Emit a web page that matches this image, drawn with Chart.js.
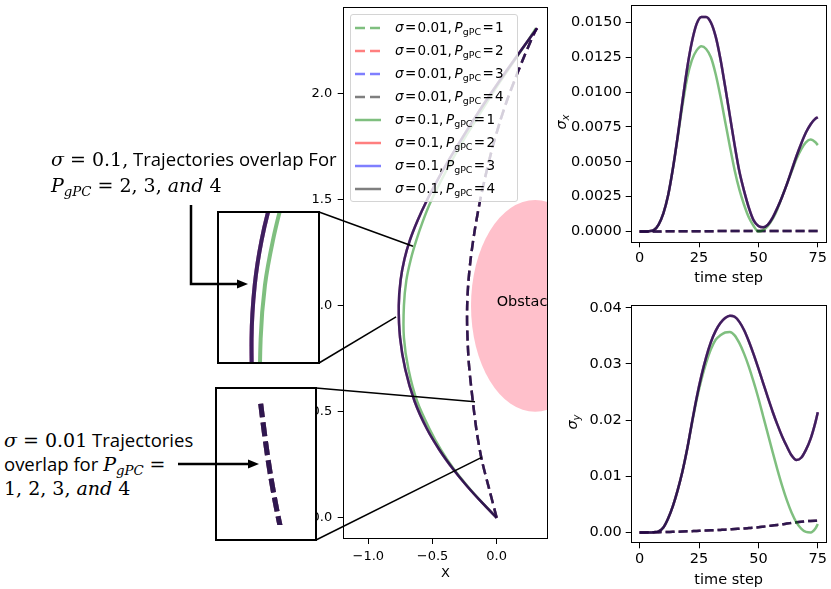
<!DOCTYPE html>
<html>
<head>
<meta charset="utf-8">
<title>gPC trajectories</title>
<script src="https://cdn.jsdelivr.net/npm/chart.js@4.4.1/dist/chart.umd.min.js"></script>
<style>
  body { margin: 0; background: #fff; }
  #fig { position: relative; width: 831px; height: 589px; overflow: hidden; background: #fff; }
  #fig > canvas { position: absolute; }
  .inset { position: absolute; box-sizing: border-box; border: 2px solid #000; background: #fff; }
  .inset canvas { display: block; }
  #legend { position: absolute; left: 350px; top: 14px; width: 168px; height: 188px; box-sizing: border-box;
            border: 1px solid #d4d4d4; border-radius: 3px; background: rgba(255,255,255,0.8);
            font-family: "DejaVu Sans"; font-size: 13.5px; color: #000; }
  #legend .row { position: absolute; left: 0; height: 20px; line-height: 20px; white-space: nowrap; }
  #legend svg { position: absolute; left: 4px; top: 8px; }
  #legend span.t { position: absolute; left: 44px; top: 0; }
  #legend .eq { margin: 0 0.1em; }
  sub { font-size: 0.7em; vertical-align: -0.3em; line-height: 0; }
  .note { position: absolute; font-family: "Open Sans"; font-size: 18.5px; white-space: nowrap; color: #000; }
  .m { font-family: "DejaVu Serif"; font-size: 19px; }
  .ylab { position: absolute; font-family: "DejaVu Sans"; font-size: 14.5px; white-space: nowrap;
          transform: translate(-50%, -50%) rotate(-90deg); }
  #overlay { pointer-events: none; }
</style>
</head>
<body>
<div id="fig">
  <canvas id="traj" width="265" height="589" style="left:290px;top:0"></canvas>
  <canvas id="sx" width="276" height="290" style="left:555px;top:0"></canvas>
  <canvas id="sy" width="276" height="299" style="left:555px;top:290px"></canvas>
  <div id="legend"></div>
  <div class="inset" id="inset1" style="left:217px;top:211px;width:103px;height:153px"><canvas id="zoom1" width="99" height="149"></canvas></div>
  <div class="inset" id="inset2" style="left:215px;top:387px;width:102px;height:154px"><canvas id="zoom2" width="98" height="150"></canvas></div>
  <div class="note" style="left:51px;top:146px;line-height:26px">
    <span class="m"><i>σ</i> = 0.1,</span> Trajectories overlap For<br>
    <span class="m"><i>P</i><sub><i>gPC</i></sub> = 2, 3, <i>and</i> 4</span>
  </div>
  <div class="note" style="left:4px;top:428px;line-height:24px">
    <span class="m"><i>σ</i> = 0.01</span> Trajectories<br>
    overlap for <span class="m"><i>P</i><sub><i>gPC</i></sub> =</span><br>
    <span class="m">1, 2, 3, <i>and</i> 4</span>
  </div>
  <div class="ylab" style="left:561px;top:122px"><i>σ</i><sub><i>x</i></sub></div>
  <div class="ylab" style="left:572px;top:422px"><i>σ</i><sub><i>y</i></sub></div>
  <canvas id="overlay" width="831" height="589" style="left:0;top:0"></canvas>
</div>

<script>
// ---------------- data ----------------
// trajectory (X, Y) for sigma = 0.1
const solidY   = [0, 0.07, 0.15, 0.23, 0.32, 0.42, 0.55, 0.70, 0.85, 1.00, 1.12, 1.22, 1.31, 1.40, 1.49, 1.60, 1.70, 1.80, 1.88, 1.97, 2.06, 2.16, 2.24, 2.31];
const solidXP1 = [0, -0.11, -0.228, -0.334, -0.434, -0.524, -0.620, -0.687, -0.723, -0.723, -0.704, -0.669, -0.626, -0.575, -0.515, -0.425, -0.336, -0.241, -0.158, -0.066, 0.03, 0.141, 0.231, 0.306];
const solidXP234 = [0, -0.112, -0.232, -0.34, -0.446, -0.544, -0.640, -0.712, -0.753, -0.763, -0.749, -0.719, -0.676, -0.618, -0.55, -0.455, -0.361, -0.261, -0.178, -0.081, 0.02, 0.136, 0.231, 0.316];
// trajectory for sigma = 0.01 (all P overlap)
const dashY = [0, 0.14, 0.27, 0.40, 0.54, 0.73, 0.90, 1.00, 1.10, 1.22, 1.36, 1.50, 1.64, 1.76, 1.87, 1.97, 2.06, 2.16, 2.24, 2.31];
const dashX = [0, -0.06, -0.115, -0.154, -0.184, -0.217, -0.230, -0.230, -0.222, -0.203, -0.170, -0.128, -0.077, -0.027, 0.026, 0.081, 0.137, 0.203, 0.259, 0.311];

// uncertainty vs time step
const timeSteps = [0, 2, 4, 6, 8, 10, 12, 14, 16, 18, 20, 22, 24, 26, 28, 30, 32, 34, 36, 38,
                   40, 42, 44, 46, 48, 50, 52, 54, 56, 58, 60, 62, 64, 66, 68, 70, 72, 74, 75];
const sigmaXP1 = [0, 0, 0.00002, 0.0001, 0.0005, 0.0013, 0.0026, 0.0045, 0.0067, 0.0090, 0.0110, 0.0123, 0.0130, 0.0133, 0.0131, 0.0125, 0.0113, 0.0097, 0.0079, 0.0061,
                  0.0044, 0.0030, 0.0019, 0.0010, 0.0004, 0.0000, 0.0001, 0.0004, 0.0009, 0.0016, 0.0025, 0.0034, 0.0043, 0.0052, 0.0059, 0.0064, 0.0066, 0.0064, 0.0062];
const sigmaXP234 = [0, 0, 0.00002, 0.0001, 0.0005, 0.0013, 0.0026, 0.0045, 0.0068, 0.0093, 0.0117, 0.0136, 0.0149, 0.0154, 0.0154, 0.0150, 0.0140, 0.0124, 0.0104, 0.0083,
                    0.0062, 0.0043, 0.0029, 0.0017, 0.0008, 0.0004, 0.0003, 0.0005, 0.0010, 0.0017, 0.0025, 0.0034, 0.0044, 0.0054, 0.0063, 0.0071, 0.0077, 0.0081, 0.0082];
const sigmaXSmall = [0, 0, 0, 0, 0, 0.00001, 0.00001, 0.00001, 0.00001, 0.00001, 0.00002, 0.00002, 0.00002, 0.00002, 0.00002, 0.00002, 0.00003, 0.00003, 0.00003, 0.00003,
                     0.00003, 0.00003, 0.00003, 0.00003, 0.00003, 0.00003, 0.00003, 0.00003, 0.00003, 0.00003, 0.00003, 0.00004, 0.00004, 0.00004, 0.00004, 0.00004, 0.00004, 0.00004, 0.00004];
const sigmaYP1 = [0, 0, 0, 0.00005, 0.0002, 0.0009, 0.0025, 0.0047, 0.0075, 0.0108, 0.0148, 0.0193, 0.0236, 0.0272, 0.0302, 0.0326, 0.0343, 0.0351, 0.0356, 0.0357,
                  0.0351, 0.0337, 0.0318, 0.0295, 0.0268, 0.0239, 0.0207, 0.0175, 0.0143, 0.0112, 0.0083, 0.0057, 0.0035, 0.0018, 0.0007, 0.0001, 0.0000, 0.0007, 0.0015];
const sigmaYP234 = [0, 0, 0, 0.00005, 0.0002, 0.0009, 0.0025, 0.0047, 0.0075, 0.0108, 0.0148, 0.0195, 0.0240, 0.0279, 0.0312, 0.0339, 0.0359, 0.0373, 0.0382, 0.0386,
                    0.0384, 0.0375, 0.0360, 0.0340, 0.0317, 0.0292, 0.0266, 0.0240, 0.0215, 0.0192, 0.0171, 0.0153, 0.0137, 0.0129, 0.0133, 0.0147, 0.0167, 0.0196, 0.0214];
const sigmaYSmall = [0, 0.00001, 0.00002, 0.00003, 0.00005, 0.00007, 0.00009, 0.00011, 0.00014, 0.00017, 0.0002, 0.00023, 0.00026, 0.0003, 0.00034, 0.00038, 0.00042, 0.00046, 0.0005, 0.00055,
                     0.0006, 0.00066, 0.00072, 0.00079, 0.00086, 0.00093, 0.00103, 0.00114, 0.00124, 0.00134, 0.00145, 0.00158, 0.0017, 0.00182, 0.00192, 0.002, 0.00205, 0.00208, 0.00209];

// legend / series labels
const sigmaLevels = ['0.01', '0.1'];
const pOrders = [1, 2, 3, 4];

// tick values and labels
const trajXTicks = [-1.0, -0.5, 0.0];
const trajXTickLabels = ['\u22121.0', '\u22120.5', '0.0'];
const trajYTicks = [0, 0.5, 1.0, 1.5, 2.0];
const trajYTickLabels = ['0.0', '0.5', '1.0', '1.5', '2.0'];
const timeTicks = [0, 25, 50, 75];
const timeTickLabels = ['0', '25', '50', '75'];
const sxTicks = [0, 0.0025, 0.005, 0.0075, 0.01, 0.0125, 0.015];
const sxTickLabels = ['0.0000', '0.0025', '0.0050', '0.0075', '0.0100', '0.0125', '0.0150'];
const syTicks = [0, 0.01, 0.02, 0.03, 0.04];
const syTickLabels = ['0.00', '0.01', '0.02', '0.03', '0.04'];

// obstacle circle and zoomed-in windows
const obstacleCenter = [0.3, 1.0];
const obstacleRadius = 0.5;
const zoomSolid = { x: [-0.906, -0.471], y: [0.948, 1.281] };
const zoomDashed = { x: [-0.332, -0.002], y: [0.285, 0.548] };

// ---------------- styling ----------------
const pColors = ['rgba(0,128,0,0.5)', 'rgba(255,0,0,0.5)', 'rgba(0,0,255,0.5)', 'rgba(0,0,0,0.5)'];
const tickFont = size => ({ family: 'DejaVu Sans', size: size });

function trajPoints(sigmaIdx, pIdx) {
    if (sigmaIdx === 0) return dashX.map((x, i) => ({ x: x, y: dashY[i] }));
    const xs = pIdx === 0 ? solidXP1 : solidXP234;
    return xs.map((x, i) => ({ x: x, y: solidY[i] }));
}

function timePoints(sigmaIdx, pIdx, small, p1, p234) {
    const ys = sigmaIdx === 0 ? small : (pIdx === 0 ? p1 : p234);
    return timeSteps.map((t, i) => ({ x: t, y: ys[i] }));
}

// 8 datasets: sigma 0.01 dashed first, then sigma 0.1 solid; later ones drawn on top
function buildSets(pointsFor, width, dash, sigmas) {
    const sets = [];
    sigmas.forEach(s => {
        pOrders.forEach((p, j) => {
            const idx = s * 4 + j;
            sets.push({
                label: 'sigma=' + sigmaLevels[s] + ', P=' + p,
                data: pointsFor(s, j),
                borderColor: pColors[j],
                borderWidth: width,
                borderDash: s === 0 ? dash : [],
                showLine: true,
                pointRadius: 0,
                fill: false,
                tension: 0.3,
                clip: 0,
                order: 8 - idx
            });
        });
    });
    return sets;
}

function makeScale(o) {
    return {
        type: 'linear',
        display: o.display !== false,
        min: o.min,
        max: o.max,
        afterBuildTicks: s => { if (o.ticks) s.ticks = o.ticks.map(v => ({ value: v })); },
        afterFit: s => {
            if (o.width !== undefined) s.width = o.width;
            if (o.height !== undefined) s.height = o.height;
            // keep the plot box exactly where the layout padding puts it
            s.paddingTop = 0; s.paddingBottom = 0; s.paddingLeft = 0; s.paddingRight = 0;
        },
        ticks: {
            font: tickFont(o.fontSize || 13),
            color: '#000',
            padding: o.pad || 3,
            maxRotation: 0,
            autoSkip: false,
            callback: (v, i) => o.labels ? o.labels[i] : v
        },
        grid: { display: true, drawOnChartArea: false, drawTicks: true, tickLength: 5, tickColor: '#000', tickWidth: 1 },
        border: { display: false },
        title: o.title ? {
            display: true, text: o.title, color: '#000',
            font: tickFont(o.fontSize || 13), padding: { top: 0, bottom: o.titlePad || 0 }
        } : { display: false }
    };
}

const framePlugin = {
    id: 'frame',
    afterDraw(chart) {
        const { ctx, chartArea: a } = chart;
        ctx.save();
        ctx.strokeStyle = '#000';
        ctx.lineWidth = 1;
        ctx.strokeRect(Math.round(a.left) + 0.5, Math.round(a.top) + 0.5,
                       Math.round(a.right - a.left) - 1, Math.round(a.bottom - a.top) - 1);
        ctx.restore();
    }
};

const obstaclePlugin = {
    id: 'obstacle',
    beforeDatasetsDraw(chart) {
        const { ctx, chartArea: a, scales: { x, y } } = chart;
        const cx = x.getPixelForValue(obstacleCenter[0]);
        const cy = y.getPixelForValue(obstacleCenter[1]);
        const rx = Math.abs(x.getPixelForValue(obstacleCenter[0] + obstacleRadius) - cx);
        const ry = Math.abs(y.getPixelForValue(obstacleCenter[1] + obstacleRadius) - cy);
        ctx.save();
        ctx.beginPath();
        ctx.rect(a.left, a.top, a.right - a.left, a.bottom - a.top);
        ctx.clip();
        ctx.fillStyle = '#ffc0cb';
        ctx.beginPath();
        ctx.ellipse(cx, cy, rx, ry, 0, 0, Math.PI * 2);
        ctx.fill();
        ctx.fillStyle = '#000';
        ctx.font = '14.5px "DejaVu Sans"';
        ctx.textBaseline = 'alphabetic';
        ctx.fillText('Obstacle', x.getPixelForValue(0.0), cy);
        ctx.restore();
    }
};

const baseOptions = {
    responsive: false,
    animation: false,
    plugins: { legend: { display: false }, tooltip: { enabled: false } }
};

// ---------------- main trajectory plot ----------------
const trajChart = new Chart(document.getElementById('traj'), {
    type: 'scatter',
    data: { datasets: buildSets(trajPoints, 2.5, [10, 5], [0, 1]) },
    options: Object.assign({}, baseOptions, {
        layout: { padding: { top: 7, right: 7, left: 0, bottom: 0 } },
        scales: {
            x: makeScale({ min: -1.2, max: 0.4, ticks: trajXTicks, labels: trajXTickLabels, height: 50, pad: 5, title: 'X', titlePad: 8 }),
            y: makeScale({ min: -0.1, max: 2.41, ticks: trajYTicks, labels: trajYTickLabels, width: 52.7, pad: 5.5 })
        }
    }),
    plugins: [obstaclePlugin, framePlugin]
});

// ---------------- sigma_x / sigma_y vs time ----------------
function timeChart(id, small, p1, p234, yMin, yMax, yTicks, yLabels, padTop, xHeight, tickPad, titlePad) {
    return new Chart(document.getElementById(id), {
        type: 'line',
        data: { datasets: buildSets((s, j) => timePoints(s, j, small, p1, p234), 2.5, [9, 4], [0, 1])
                    .map(d => Object.assign(d, { tension: 0, cubicInterpolationMode: 'monotone' })) },
        options: Object.assign({}, baseOptions, {
            layout: { padding: { top: padTop, right: 4.3, left: 0, bottom: 0 } },
            scales: {
                x: makeScale({ min: -3.75, max: 78.75, ticks: timeTicks, labels: timeTickLabels, height: xHeight,
                               fontSize: 14.5, pad: tickPad, title: 'time step', titlePad: titlePad }),
                y: makeScale({ min: yMin, max: yMax, ticks: yTicks, labels: yLabels, width: 75.7, fontSize: 14.5, pad: 4 })
            }
        }),
        plugins: [framePlugin]
    });
}
timeChart('sx', sigmaXSmall, sigmaXP1, sigmaXP234, -0.000775, 0.016275, sxTicks, sxTickLabels, 4.7, 47.7, 2, 3);
timeChart('sy', sigmaYSmall, sigmaYP1, sigmaYP234, -0.00193, 0.0405, syTicks, syTickLabels, 15, 45.7, 2, 0.5);

// ---------------- zoomed insets ----------------
function insetChart(id, sigmas, width, dash, win, pad) {
    return new Chart(document.getElementById(id), {
        type: 'scatter',
        data: { datasets: buildSets(trajPoints, width, dash, sigmas) },
        options: Object.assign({}, baseOptions, {
            layout: { padding: pad },
            scales: {
                x: makeScale({ display: false, min: win.x[0], max: win.x[1] }),
                y: makeScale({ display: false, min: win.y[0], max: win.y[1] })
            }
        })
    });
}
insetChart('zoom1', [1], 4, [], zoomSolid, 0);
insetChart('zoom2', [0], 5, [14, 5], zoomDashed, { top: 13, bottom: 14, left: 0, right: 0 });

// ---------------- legend (inside the trajectory axes) ----------------
const legend = document.getElementById('legend');
sigmaLevels.forEach((s, si) => {
    pOrders.forEach((p, j) => {
        const k = si * 4 + j;
        const row = document.createElement('div');
        row.className = 'row';
        row.style.top = (2 + k * 22.95) + 'px';
        const dash = si === 0 ? ' stroke-dasharray="10 5"' : '';
        row.innerHTML = '<svg width="28" height="6"><line x1="0" y1="3" x2="26" y2="3" stroke="' + pColors[j] +
            '" stroke-width="2.5"' + dash + '/></svg>' +
            '<span class="t"><i>σ</i><span class="eq">=</span>' + s + ',&thinsp;<i>P</i><sub>gPC</sub><span class="eq">=</span>' + p + '</span>';
        legend.appendChild(row);
    });
});

// ---------------- connector lines and arrows ----------------
const ov = document.getElementById('overlay').getContext('2d');
const trajLeft = 290;
function trajPx(pt) {
    return [trajLeft + trajChart.scales.x.getPixelForValue(pt[0]), trajChart.scales.y.getPixelForValue(pt[1])];
}
function line(a, b, w) {
    ov.beginPath();
    ov.moveTo(a[0], a[1]);
    ov.lineTo(b[0], b[1]);
    ov.lineWidth = w;
    ov.strokeStyle = '#000';
    ov.stroke();
}
function corners(id) {
    const el = document.getElementById(id);
    const r = el.offsetLeft + el.offsetWidth - 1;
    return [[r, el.offsetTop + 1], [r, el.offsetTop + el.offsetHeight - 1]];
}
const c1 = corners('inset1');
const c2 = corners('inset2');
line(c1[0], trajPx([-0.652, zoomSolid.y[1]]), 1.5);
line(c1[1], trajPx([-0.784, zoomSolid.y[0]]), 1.5);
line(c2[0], trajPx([-0.169, zoomDashed.y[1]]), 1.5);
line(c2[1], trajPx([-0.117, zoomDashed.y[0]]), 1.5);

function arrowHead(tip) {
    ov.beginPath();
    ov.moveTo(tip[0], tip[1]);
    ov.lineTo(tip[0] - 11, tip[1] - 4.5);
    ov.lineTo(tip[0] - 11, tip[1] + 4.5);
    ov.closePath();
    ov.fillStyle = '#000';
    ov.fill();
}
ov.lineJoin = 'miter';
ov.beginPath();
ov.moveTo(191, 205);
ov.lineTo(191, 284);
ov.lineTo(238, 284);
ov.lineWidth = 2.5;
ov.stroke();
arrowHead([248, 284]);
line([178, 464], [249, 464], 2.5);
arrowHead([259, 464]);
</script>
</body>
</html>
